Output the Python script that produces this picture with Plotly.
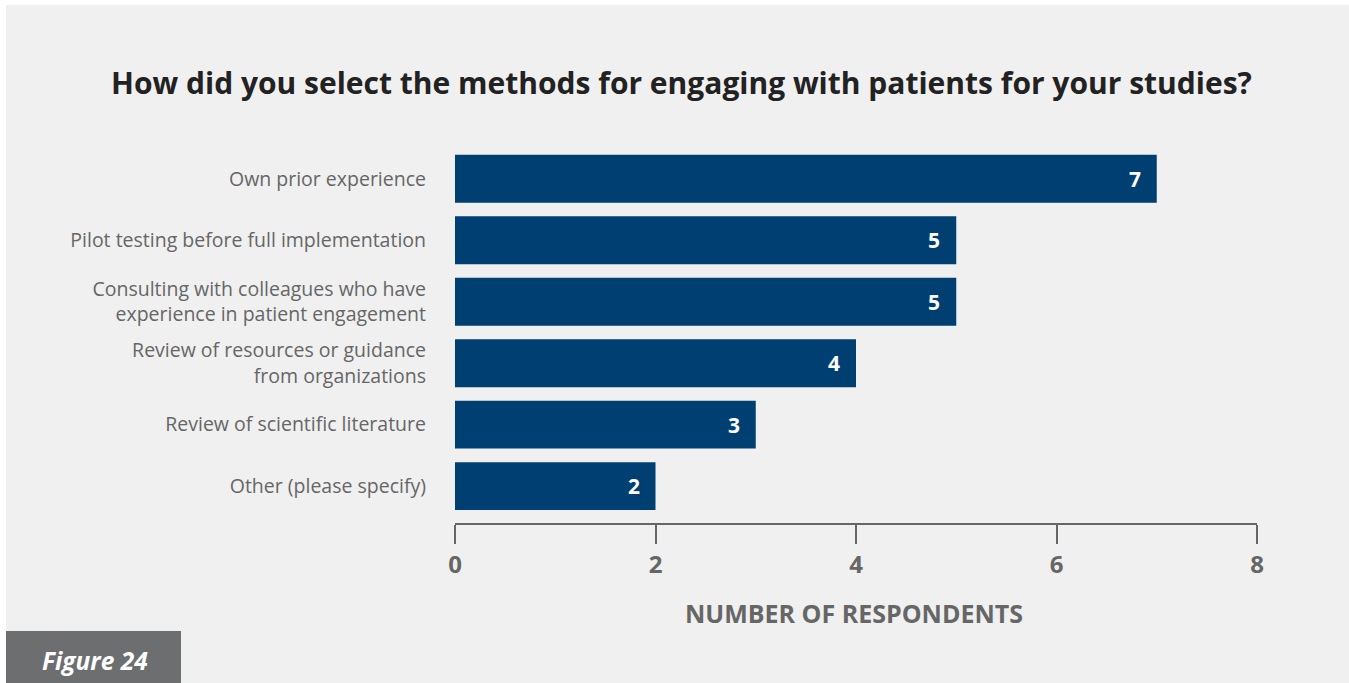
import plotly.graph_objects as go

# Survey responses
categories = [
    "Own prior experience",
    "Pilot testing before full implementation",
    "Consulting with colleagues who have<br>experience in patient engagement",
    "Review of resources or guidance<br>from organizations",
    "Review of scientific literature",
    "Other (please specify)",
]
respondents = [7, 5, 5, 4, 3, 2]
x_ticks = [0, 2, 4, 6, 8]

title_text = "How did you select the methods for engaging with patients for your studies?"
axis_title = "NUMBER OF RESPONDENTS"
figure_label = "Figure 24"

W, H = 1349, 683
ML, MR, MT, MB = 455, 92, 148, 160
PW, PH = W - ML - MR, H - MT - MB

def px_x(p):
    return (p - ML) / PW

def px_y(p):
    return (H - MB - p) / PH

FONT = "Open Sans"
GRAY = "#666666"

fig = go.Figure(
    go.Bar(
        x=respondents,
        y=categories,
        orientation="h",
        marker=dict(color="#003f72", line=dict(width=0)),
        hoverinfo="skip",
    )
)

# value labels sitting just inside the end of each bar
value_labels = [
    dict(text=str(v), x=v, y=c, xref="x", yref="y",
         xanchor="right", yanchor="middle", xshift=-14, showarrow=False,
         font=dict(family=FONT, size=21, color="white", weight="bold"))
    for v, c in zip(respondents, categories)
]

fig.update_layout(
    width=W,
    height=H,
    margin=dict(l=ML, r=MR, t=MT, b=MB, autoexpand=False),
    paper_bgcolor="white",
    plot_bgcolor="rgba(0,0,0,0)",
    bargap=0.22,
    showlegend=False,
    shapes=[
        dict(type="rect", xref="paper", yref="paper", layer="below",
             x0=px_x(6), x1=px_x(W), y0=px_y(H), y1=px_y(5),
             fillcolor="#f0f0f0", line=dict(width=0)),
        dict(type="rect", xref="paper", yref="paper", layer="above",
             x0=px_x(6), x1=px_x(181), y0=px_y(H), y1=px_y(631),
             fillcolor="#6d6e70", line=dict(width=0)),
    ],
    annotations=value_labels + [
        dict(text=title_text, xref="paper", yref="paper",
             x=px_x(681), y=px_y(82), xanchor="center", yanchor="middle",
             showarrow=False,
             font=dict(family=FONT, size=30, color="#222222", weight="bold")),
        dict(text=axis_title, xref="paper", yref="paper",
             x=px_x(854), y=px_y(613), xanchor="center", yanchor="middle",
             showarrow=False,
             font=dict(family=FONT, size=25, color=GRAY, weight="bold")),
        dict(text="<i>" + figure_label + "</i>", xref="paper", yref="paper",
             x=px_x(40), y=px_y(660), xanchor="left", yanchor="middle",
             showarrow=False,
             font=dict(family=FONT, size=24.5, color="white", weight="bold")),
    ],
)

fig.update_xaxes(
    range=[0, 8],
    tickvals=x_ticks,
    ticktext=[str(t) for t in x_ticks],
    showgrid=False,
    zeroline=False,
    showline=True,
    linecolor=GRAY,
    linewidth=2,
    ticks="outside",
    ticklen=19,
    tickwidth=2,
    tickcolor=GRAY,
    tickfont=dict(family=FONT, size=24, color=GRAY, weight="bold"),
    fixedrange=True,
)

fig.update_yaxes(
    categoryorder="array",
    categoryarray=categories,
    range=[5.6, -0.5],
    showgrid=False,
    zeroline=False,
    showline=False,
    ticks="",
    ticklabelstandoff=28,
    tickfont=dict(family=FONT, size=19.5, color=GRAY),
    fixedrange=True,
)

fig.write_html("out.html")
